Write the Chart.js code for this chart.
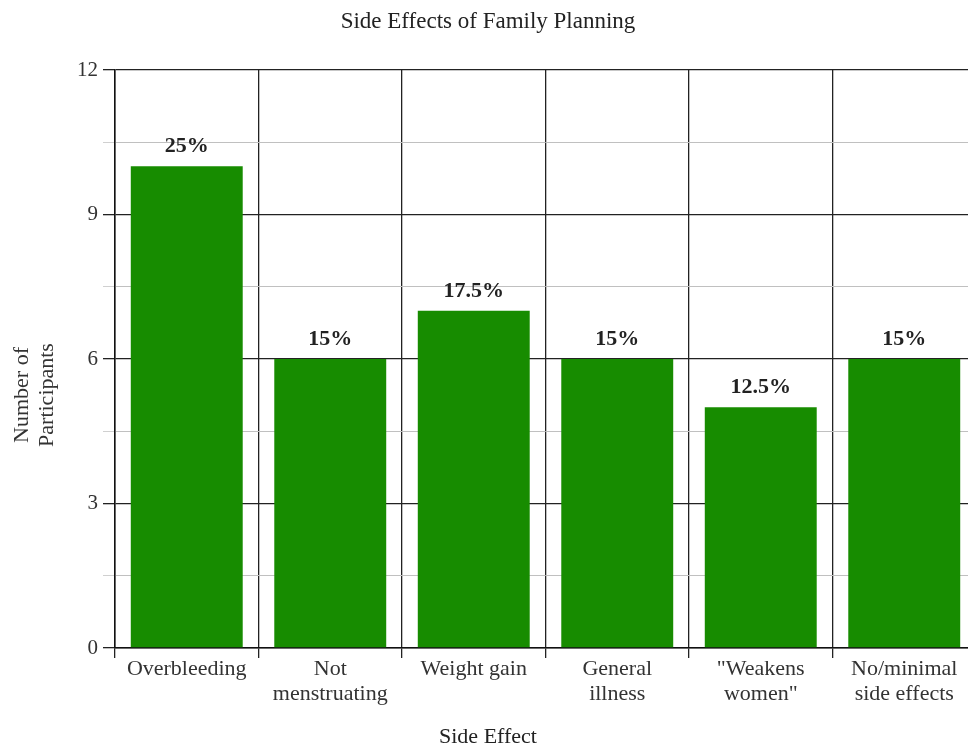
<!DOCTYPE html>
<html>
<head>
    <title>Side Effects of Family Planning</title>
    <meta http-equiv="content-type" content="text/html;charset=UTF-8">
    <script src="https://cdn.jsdelivr.net/npm/chart.js"></script>
    <style>
        html, body {
            margin: 0;
            padding: 0;
            overflow: hidden;
            background: #fff;
        }

        .chart-box {
            width: 994px;
            height: 744px;
        }
    </style>
</head>
<body>
<div class="chart-box">
    <canvas id="sideChart" width="994" height="744"></canvas>
</div>
<script>
    // data
    const categories = [
        'Overbleeding',
        ['Not', 'menstruating'],
        'Weight gain',
        ['General', 'illness'],
        ['"Weakens', 'women"'],
        ['No/minimal', 'side effects']
    ];
    const participants = [10, 6, 7, 6, 5, 6];
    const percentLabels = ['25%', '15%', '17.5%', '15%', '12.5%', '15%'];
    const yTicks = [0, 3, 6, 9, 12];

    const serif = '"Liberation Serif", "Times New Roman", serif';

    // percent text above each bar + rotated y axis title
    const extraText = {
        id: 'extraText',
        afterDatasetsDraw(chart) {
            let ctx = chart.ctx;
            let meta = chart.getDatasetMeta(0);
            ctx.save();
            ctx.font = 'bold 22px ' + serif;
            ctx.fillStyle = '#222';
            ctx.textAlign = 'center';
            ctx.textBaseline = 'alphabetic';
            meta.data.forEach((bar, i) => {
                ctx.fillText(percentLabels[i], bar.x, bar.y - 14);
            });
            ctx.restore();

            ctx.save();
            ctx.font = '22px ' + serif;
            ctx.fillStyle = '#333';
            ctx.textAlign = 'center';
            ctx.textBaseline = 'middle';
            ctx.translate(34.5, 395);
            ctx.rotate(-Math.PI / 2);
            ctx.fillText('Number of', 0, -12.5);
            ctx.fillText('Participants', 0, 12.5);
            ctx.restore();
        }
    };

    let ctx = document.getElementById('sideChart').getContext('2d');
    new Chart(ctx, {
        type: 'bar',
        data: {
            labels: categories,
            datasets: [{
                data: participants,
                backgroundColor: '#178c00',
                borderWidth: 0,
                barPercentage: 0.78,
                categoryPercentage: 1
            }]
        },
        options: {
            responsive: false,
            animation: false,
            layout: {padding: {left: 0, right: 18, top: 0, bottom: 0}},
            plugins: {
                legend: {display: false},
                tooltip: {enabled: false},
                title: {
                    display: true,
                    text: 'Side Effects of Family Planning',
                    color: '#222',
                    font: {family: serif, size: 23, weight: 'normal', lineHeight: 1.2},
                    padding: {top: 8.2, bottom: 34.2}
                },
                subtitle: {
                    display: true,
                    position: 'bottom',
                    text: 'Side Effect',
                    color: '#222',
                    font: {family: serif, size: 22, lineHeight: 0.9},
                    padding: {top: 0, bottom: -3}
                }
            },
            scales: {
                x: {
                    afterFit(scale) {
                        scale.height = 79.2;
                    },
                    grid: {
                        offset: true,
                        color: '#222',
                        lineWidth: 1.3,
                        tickLength: 10,
                        tickColor: '#222'
                    },
                    border: {color: '#111', width: 1.5},
                    ticks: {
                        color: '#333',
                        padding: -1,
                        maxRotation: 0,
                        autoSkip: false,
                        font: {family: serif, size: 22, lineHeight: 1.14}
                    }
                },
                y: {
                    min: 0,
                    max: 12,
                    afterFit(scale) {
                        scale.width = 115;
                    },
                    afterBuildTicks(scale) {
                        let all = [];
                        for (let i = 0; i < yTicks.length; i++) {
                            all.push({value: yTicks[i]});
                            if (i < yTicks.length - 1) {
                                all.push({value: (yTicks[i] + yTicks[i + 1]) / 2});
                            }
                        }
                        scale.ticks = all;
                    },
                    grid: {
                        color: c => yTicks.includes(c.tick.value) ? '#222' : '#c0c0c0',
                        lineWidth: c => yTicks.includes(c.tick.value) ? 1.3 : 1,
                        tickLength: 12,
                        tickColor: c => yTicks.includes(c.tick.value) ? '#222' : '#d0d0d0'
                    },
                    border: {color: '#111', width: 1.5},
                    ticks: {
                        color: '#333',
                        padding: 5,
                        font: {family: serif, size: 21},
                        callback: v => yTicks.includes(v) ? v : ''
                    }
                }
            }
        },
        plugins: [extraText]
    });
</script>
</body>
</html>
